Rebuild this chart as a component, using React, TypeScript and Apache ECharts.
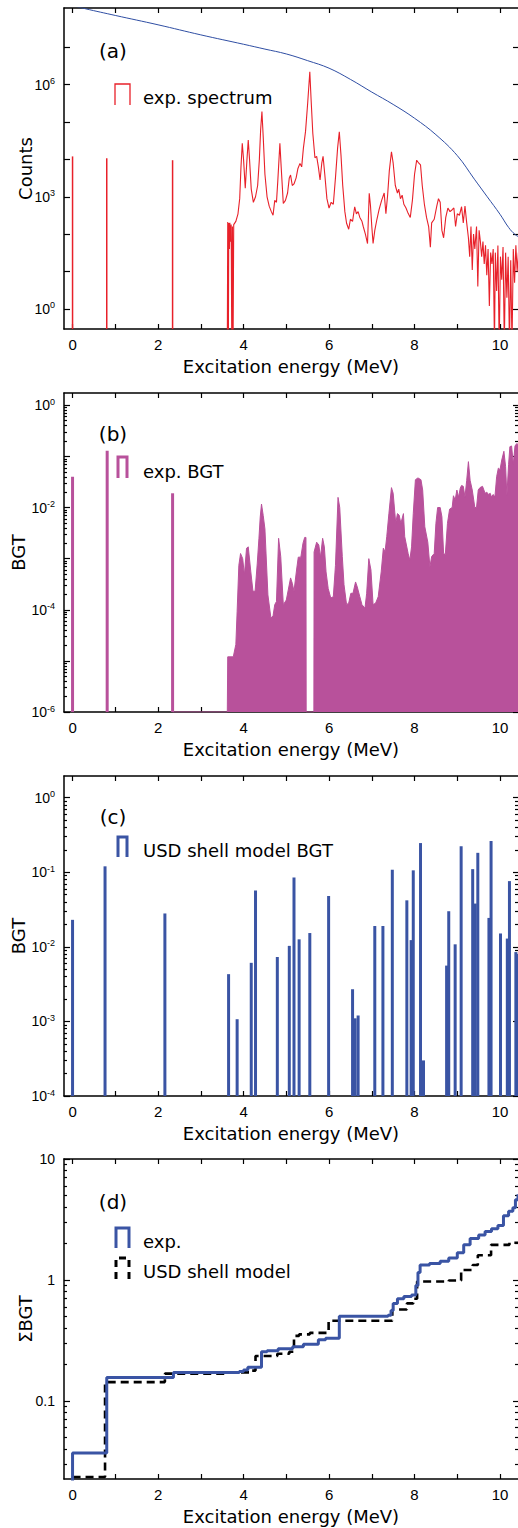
import React, { useEffect, useRef } from 'react';
import * as echarts from 'echarts';

const FONT = "'Liberation Sans', Arial, sans-serif";
const TITLE_FONT = "'DejaVu Sans', Verdana, sans-serif";
const BLACK = '#000000';
const RED = '#e8212a';
const CURVE_BLUE = '#2f4ea3';
const MAGENTA = '#b8519b';
const BLUE = '#3a54a4';

// ---- shared x axis ----
const X_MIN = -0.2;
const X_MAX = 10.42;
const X_TICKS = [0, 1, 2, 3, 4, 5, 6, 7, 8, 9, 10];
const X_LABELS = [0, 2, 4, 6, 8, 10];

// ---- panel (a) ----
const A_Y_RANGE = [0.29, 1.12e8];
const A_Y_TICKS = [1, 10, 100, 1e3, 1e4, 1e5, 1e6, 1e7];
const A_Y_LABELS = [1, 1e3, 1e6];
// isolated lines of the experimental spectrum: [MeV, counts]
const A_SPIKES: [number, number][] = [[0.0, 12000], [0.8, 10700], [2.34, 9500]];
// experimental spectrum: [MeV, counts]
const A_SPECTRUM: [number, number][] = [
  [3.62, 0.1], [3.63, 210], [3.645, 0.1], [3.655, 200], [3.67, 40], [3.68, 200], [3.695, 63], [3.71, 180],
  [3.725, 0.1], [3.74, 160], [3.755, 0.1], [3.77, 180], [3.82, 220], [3.87, 350], [3.91, 890], [3.94, 6300],
  [3.97, 27000], [4.0, 10000], [4.04, 1700], [4.08, 10000], [4.11, 33000], [4.14, 10000], [4.18, 1600],
  [4.23, 710], [4.28, 1000], [4.33, 2000], [4.37, 10000], [4.4, 63000], [4.43, 190000], [4.46, 40000],
  [4.5, 4000], [4.55, 1000], [4.6, 560], [4.65, 400], [4.69, 320], [4.73, 800], [4.77, 710], [4.8, 2500],
  [4.85, 27000], [4.88, 6300], [4.93, 660], [4.98, 800], [5.03, 1260], [5.07, 3200], [5.1, 3800], [5.14, 2000],
  [5.18, 2200], [5.23, 3200], [5.27, 5600], [5.32, 7800], [5.36, 6300], [5.4, 20000], [5.45, 56000],
  [5.5, 316000], [5.55, 2.2e6], [5.58, 400000], [5.62, 50000], [5.67, 11000], [5.71, 12000], [5.75, 6300],
  [5.79, 2800], [5.83, 7900], [5.86, 12000], [5.9, 4000], [5.95, 890], [6.0, 500], [6.05, 710], [6.1, 630],
  [6.15, 3200], [6.2, 20000], [6.24, 55000], [6.28, 12600], [6.32, 2000], [6.37, 400], [6.41, 195], [6.46, 135],
  [6.5, 250], [6.55, 220], [6.6, 540], [6.64, 350], [6.68, 400], [6.72, 280], [6.77, 220], [6.8, 160],
  [6.85, 100], [6.9, 56], [6.94, 1230], [6.97, 560], [7.0, 160], [7.03, 56], [7.07, 126], [7.12, 250],
  [7.17, 450], [7.23, 800], [7.29, 1260], [7.33, 350], [7.37, 1100], [7.41, 5000], [7.46, 16000], [7.5, 7900],
  [7.55, 2000], [7.6, 1260], [7.63, 1600], [7.67, 890], [7.71, 1100], [7.75, 630], [7.8, 500], [7.85, 360],
  [7.9, 280], [7.95, 800], [8.0, 4000], [8.05, 9500], [8.1, 7900], [8.14, 7100], [8.18, 2000], [8.23, 630],
  [8.28, 280], [8.33, 160], [8.37, 45], [8.4, 200], [8.46, 250], [8.52, 560], [8.56, 890], [8.6, 710],
  [8.64, 126], [8.68, 80], [8.73, 280], [8.78, 500], [8.83, 400], [8.88, 450], [8.92, 500], [8.96, 160],
  [9.0, 350], [9.05, 320], [9.1, 540], [9.14, 200], [9.18, 560], [9.22, 200], [9.26, 80], [9.29, 25],
  [9.32, 160], [9.35, 11], [9.38, 100], [9.41, 40], [9.45, 160], [9.48, 4], [9.51, 126], [9.54, 63],
  [9.57, 25], [9.6, 63], [9.63, 16], [9.66, 50], [9.69, 8], [9.72, 40], [9.75, 1.2], [9.78, 32], [9.81, 16],
  [9.84, 40], [9.87, 0.1], [9.89, 32], [9.92, 3], [9.95, 50], [9.98, 0.1], [10.01, 25], [10.04, 6],
  [10.07, 45], [10.1, 0.1], [10.13, 32], [10.16, 2], [10.19, 25], [10.22, 0.1], [10.25, 20], [10.28, 0.1],
  [10.31, 40], [10.34, 5], [10.37, 50], [10.4, 10], [10.43, 32],
];
// smooth blue curve: [MeV, counts]
const A_CURVE: [number, number][] = [
  [0.0, 1.3e8], [0.3, 1.07e8], [1.0, 7.08e7], [2.0, 3.98e7], [3.0, 2.14e7], [4.0, 1.2e7], [4.5, 8.91e6],
  [5.0, 6.61e6], [5.5, 4.37e6], [6.0, 2.75e6], [6.5, 1.38e6], [7.0, 6.31e5], [7.5, 2.95e5], [8.0, 1.26e5],
  [8.5, 4.57e4], [9.0, 1.26e4], [9.4, 2.95e3], [9.7, 1.0e3], [10.0, 339], [10.2, 151], [10.35, 98], [10.45, 83],
];

// ---- panel (b) ----
const B_Y_RANGE = [1e-6, 1.74];
const B_Y_TICKS = [1e-6, 1e-5, 1e-4, 1e-3, 1e-2, 1e-1, 1];
const B_Y_LABELS = [1e-6, 1e-4, 1e-2, 1];
const B_SPIKES: [number, number][] = [[0.0, 0.04], [0.81, 0.129], [2.34, 0.019]];
const B_BGT: [number, number][] = [
  [2.34, 1e-6], [3.62, 1e-6], [3.63, 1.2e-5], [3.76, 1.2e-5], [3.82, 2.1e-5], [3.85, 9.3e-5], [3.89, 7.4e-4],
  [3.93, 1.26e-3], [3.98, 1.0e-3], [4.02, 4.8e-4], [4.07, 1.6e-3], [4.11, 1.7e-3], [4.17, 5.5e-4],
  [4.22, 2.3e-4], [4.27, 2.3e-4], [4.32, 7.9e-4], [4.36, 2.5e-3], [4.39, 6.5e-3], [4.42, 1.17e-2],
  [4.46, 7e-3], [4.5, 3.8e-3], [4.57, 1.95e-4], [4.64, 6.9e-5], [4.69, 7.6e-5], [4.73, 1.26e-4],
  [4.77, 1.45e-4], [4.82, 2.5e-3], [4.87, 1.1e-3], [4.93, 1.26e-4], [5.0, 1.55e-4], [5.1, 4.2e-4],
  [5.14, 3.3e-4], [5.18, 2.3e-4], [5.24, 6e-4], [5.28, 1.07e-3], [5.34, 1.07e-3], [5.39, 2.0e-3],
  [5.43, 2.6e-3], [5.46, 2.6e-3], [5.465, 1e-6], [5.645, 1e-6], [5.65, 1.35e-3], [5.71, 2.1e-3],
  [5.76, 1.85e-3], [5.8, 1.07e-3], [5.85, 2.5e-3], [5.89, 1.7e-3], [5.93, 5.5e-4], [5.98, 2.6e-4],
  [6.04, 1.7e-4], [6.1, 1.8e-4], [6.15, 7.4e-4], [6.21, 1.58e-2], [6.25, 1.0e-2], [6.31, 1.1e-3],
  [6.35, 3.1e-4], [6.41, 1.26e-4], [6.46, 1.35e-4], [6.51, 2.1e-4], [6.56, 2.1e-4], [6.62, 3.5e-4],
  [6.66, 2.8e-4], [6.72, 1.8e-4], [6.77, 1.26e-4], [6.84, 1.07e-4], [6.88, 2.1e-4], [6.93, 1.0e-3],
  [6.98, 6.0e-4], [7.03, 1.26e-4], [7.09, 1.35e-4], [7.15, 1.8e-4], [7.22, 5.5e-4], [7.27, 1.6e-3],
  [7.31, 1.35e-3], [7.35, 2.7e-3], [7.4, 7.6e-3], [7.46, 2.45e-2], [7.5, 1.9e-2], [7.56, 4.9e-3],
  [7.6, 7.6e-3], [7.64, 7.1e-3], [7.68, 4.9e-3], [7.74, 7.6e-3], [7.77, 2.7e-3], [7.85, 1.26e-3],
  [7.89, 9.3e-4], [7.93, 1.7e-3], [7.97, 7.6e-3], [8.02, 3.5e-2], [8.08, 3.8e-2], [8.15, 3.5e-2],
  [8.19, 2.2e-2], [8.24, 4.2e-3], [8.31, 2.1e-3], [8.36, 6.9e-4], [8.4, 1.1e-3], [8.46, 1.26e-3],
  [8.5, 4.9e-3], [8.54, 1.0e-2], [8.6, 1.0e-2], [8.64, 6.6e-3], [8.68, 1.26e-3], [8.72, 1.2e-3],
  [8.77, 4.9e-3], [8.82, 9.3e-3], [8.88, 1.0e-2], [8.91, 1.7e-2], [8.95, 1.4e-2], [8.99, 2.2e-2],
  [9.03, 1.6e-2], [9.07, 2.4e-2], [9.1, 2.7e-2], [9.14, 2.6e-2], [9.18, 1.6e-2], [9.22, 3.4e-2],
  [9.26, 7.9e-2], [9.3, 3.4e-2], [9.35, 2.2e-2], [9.41, 1.0e-2], [9.45, 1.0e-2], [9.49, 2.2e-2],
  [9.53, 2.45e-2], [9.59, 2.6e-2], [9.65, 1.9e-2], [9.69, 2.0e-2], [9.73, 1.8e-2], [9.77, 1.9e-2],
  [9.8, 1.6e-2], [9.84, 1.8e-2], [9.88, 1.6e-2], [9.92, 4.0e-2], [9.96, 5.9e-2], [10.0, 5.5e-2],
  [10.04, 8.5e-2], [10.09, 0.126], [10.13, 6.3e-2], [10.16, 1.7e-2], [10.2, 7e-2], [10.23, 0.155],
  [10.27, 0.16], [10.31, 7e-2], [10.35, 0.16], [10.39, 0.178], [10.43, 0.17],
];

// ---- panel (c) ----
const C_Y_RANGE = [1e-4, 1.95];
const C_Y_TICKS = [1e-4, 1e-3, 1e-2, 1e-1, 1];
const C_Y_LABELS = [1e-4, 1e-3, 1e-2, 1e-1, 1];
const C_USD_BGT: [number, number][] = [
  [0.0, 0.023], [0.76, 0.12], [2.16, 0.028], [3.65, 0.0043], [3.85, 0.00107], [4.18, 0.0061], [4.28, 0.057],
  [4.79, 0.0073], [5.07, 0.0103], [5.18, 0.085], [5.3, 0.0126], [5.55, 0.0153], [5.99, 0.048], [6.55, 0.0027],
  [6.61, 0.0011], [6.68, 0.0012], [7.07, 0.019], [7.26, 0.019], [7.48, 0.108], [7.82, 0.042], [7.92, 0.0123],
  [7.97, 0.106], [8.14, 0.246], [8.21, 0.0003], [8.75, 0.0056], [8.8, 0.03], [8.95, 0.0108], [9.09, 0.223],
  [9.36, 0.11], [9.42, 0.038], [9.48, 0.182], [9.74, 0.0244], [9.79, 0.262], [10.01, 0.0151], [10.17, 0.0129],
  [10.22, 0.076], [10.37, 0.0085], [10.41, 0.008],
];

// ---- panel (d) ----
const D_Y_RANGE = [0.0226, 10];
const D_Y_TICKS = [0.1, 1, 10];
const D_Y_LABELS = [0.1, 1, 10];
const D_EXP_SUM: [number, number][] = [
  [0.0, 0.02], [0.0, 0.037], [0.8, 0.156], [2.36, 0.172], [3.9, 0.175], [4.0, 0.18], [4.1, 0.19],
  [4.42, 0.255], [4.55, 0.26], [4.81, 0.27], [5.15, 0.28], [5.4, 0.294], [5.75, 0.32], [5.92, 0.33],
  [6.24, 0.5], [7.38, 0.51], [7.45, 0.56], [7.5, 0.64], [7.6, 0.7], [7.75, 0.73], [7.93, 0.75],
  [8.03, 0.9], [8.08, 1.15], [8.13, 1.33], [8.35, 1.37], [8.6, 1.43], [8.8, 1.52], [9.0, 1.68],
  [9.15, 1.95], [9.3, 2.2], [9.5, 2.35], [9.65, 2.52], [9.8, 2.65], [9.95, 2.82], [10.08, 3.4],
  [10.2, 3.7], [10.3, 3.95], [10.36, 4.6], [10.42, 5.1],
];
const D_USD_SUM: [number, number][] = [
  [0.0, 0.0235], [0.76, 0.143], [2.16, 0.168], [3.65, 0.172], [4.18, 0.178], [4.28, 0.235], [4.79, 0.245],
  [5.07, 0.255], [5.18, 0.345], [5.3, 0.355], [5.55, 0.365], [5.99, 0.46], [7.48, 0.57], [7.82, 0.64],
  [7.97, 0.7], [8.06, 0.97], [8.8, 0.99], [9.09, 1.21], [9.36, 1.33], [9.48, 1.6], [9.79, 1.95],
  [10.22, 2.03], [10.42, 2.03],
];

function minorTicks(fromExp: number, toExp: number): number[] {
  const out: number[] = [];
  for (let e = fromExp; e <= toExp; e++) {
    for (let m = 2; m <= 9; m++) out.push(m * Math.pow(10, e));
  }
  return out;
}

const AXIS_LINE = { color: BLACK, width: 1.5 };
const TICK_LINE = { color: BLACK, width: 1.2 };
const NAME_STYLE = { fontSize: 18, color: BLACK, fontFamily: TITLE_FONT };

const powFmt = (v: number) => {
  const e = Math.round(Math.log10(v));
  return `{b|10}{s|${e}}`;
};
const plainFmt = (v: number) => String(v);
const RICH = {
  b: { fontSize: 14, fontFamily: FONT, color: BLACK, lineHeight: 16 },
  s: { fontSize: 9, fontFamily: FONT, color: BLACK, lineHeight: 9, verticalAlign: 'top' },
};

function xAxesFor(gi: number) {
  const common = {
    type: 'value', gridIndex: gi, min: X_MIN, max: X_MAX,
    splitLine: { show: false },
  };
  return [
    {
      ...common,
      position: 'bottom',
      name: 'Excitation energy (MeV)',
      nameLocation: 'middle',
      nameGap: 28,
      nameMoveOverlap: false,
      nameTextStyle: NAME_STYLE,
      axisLine: { show: true, onZero: false, lineStyle: AXIS_LINE },
      axisTick: { show: true, inside: true, length: 5, customValues: X_TICKS, lineStyle: TICK_LINE },
      axisLabel: { show: true, customValues: X_LABELS, margin: 8, fontSize: 15, color: BLACK, fontFamily: FONT },
    },
    {
      ...common,
      position: 'top',
      axisLine: { show: true, onZero: false, lineStyle: AXIS_LINE },
      axisTick: { show: true, inside: true, length: 5, customValues: X_TICKS, lineStyle: TICK_LINE },
      axisLabel: { show: false },
    },
  ];
}

function yAxesFor(
  gi: number, range: number[], majors: number[], labels: number[], minors: number[],
  name: string, nameGap: number, fmt: (v: number) => string,
) {
  const common = {
    type: 'log', logBase: 10, gridIndex: gi, min: range[0], max: range[1],
    splitLine: { show: false },
  };
  const hasMinor = minors.length > 0;
  return [
    {
      ...common,
      position: 'left',
      name, nameLocation: 'middle', nameGap, nameMoveOverlap: false,
      nameTextStyle: NAME_STYLE,
      axisLine: { show: true, onZero: false, lineStyle: AXIS_LINE },
      axisTick: { show: true, inside: true, length: 6, customValues: majors, lineStyle: TICK_LINE },
      axisLabel: { show: true, customValues: labels, formatter: fmt, margin: 9, rich: RICH, fontSize: 14, color: BLACK, fontFamily: FONT },
    },
    {
      ...common,
      position: 'left',
      axisLine: { show: false, onZero: false },
      axisTick: { show: hasMinor, inside: true, length: 3, customValues: hasMinor ? minors : majors, lineStyle: TICK_LINE },
      axisLabel: { show: false },
    },
    {
      ...common,
      position: 'right',
      axisLine: { show: false, onZero: false },
      axisTick: { show: true, inside: true, length: 5, customValues: majors, lineStyle: TICK_LINE },
      axisLabel: { show: false },
    },
    {
      ...common,
      position: 'right',
      axisLine: { show: false, onZero: false },
      axisTick: { show: hasMinor, inside: true, length: 3, customValues: hasMinor ? minors : majors, lineStyle: TICK_LINE },
      axisLabel: { show: false },
    },
  ];
}

function stickSeries(gi: number, data: [number, number][], color: string, width: number) {
  return {
    type: 'custom',
    xAxisIndex: gi * 2,
    yAxisIndex: gi * 4,
    clip: true,
    data,
    renderItem: (params: any, api: any) => {
      const top = api.coord([api.value(0), api.value(1)]);
      const cs = params.coordSys;
      const bottom = cs.y + cs.height;
      return {
        type: 'rect',
        shape: { x: top[0] - width / 2, y: top[1], width, height: bottom - top[1] },
        style: { fill: color },
      };
    },
  };
}

function text(t: string, x: number, y: number, size: number, align = 'left') {
  return {
    type: 'text',
    z: 100,
    style: {
      text: t, x, y, fill: BLACK, fontSize: size, fontFamily: TITLE_FONT,
      textAlign: align, align, textVerticalAlign: 'middle', verticalAlign: 'middle',
    },
  };
}

function legendMark(x0: number, x1: number, yTop: number, yBot: number, color: string, lw: number, dash?: number[]) {
  return {
    type: 'polyline',
    z: 100,
    shape: { points: [[x0, yBot], [x0, yTop], [x1, yTop], [x1, yBot]] },
    style: { stroke: color, lineWidth: lw, fill: null, lineDash: dash || null },
  };
}

function buildOption() {
  const grids = [
    { left: 64, right: 0, top: 8, height: 321 },
    { left: 64, right: 0, top: 393, height: 319 },
    { left: 64, right: 0, top: 776, height: 320 },
    { left: 64, right: 0, top: 1159, height: 320 },
  ].map((g) => ({ ...g, outerBoundsMode: 'none', containLabel: false }));

  const xAxis = [...xAxesFor(0), ...xAxesFor(1), ...xAxesFor(2), ...xAxesFor(3)];
  const yAxis = [
    ...yAxesFor(0, A_Y_RANGE, A_Y_TICKS, A_Y_LABELS, [], 'Counts', 30, powFmt),
    ...yAxesFor(1, B_Y_RANGE, B_Y_TICKS, B_Y_LABELS, minorTicks(-6, -1), 'BGT', 37, powFmt),
    ...yAxesFor(2, C_Y_RANGE, C_Y_TICKS, C_Y_LABELS, minorTicks(-4, -1), 'BGT', 37, powFmt),
    ...yAxesFor(3, D_Y_RANGE, D_Y_TICKS, D_Y_LABELS, minorTicks(-2, 0).filter((v) => v > 0.0226), 'ΣBGT', 30, plainFmt),
  ];

  const series: any[] = [
    stickSeries(0, A_SPIKES, RED, 1.5),
    {
      type: 'line', xAxisIndex: 0, yAxisIndex: 0, data: A_SPECTRUM, showSymbol: false,
      lineStyle: { color: RED, width: 1.1 }, itemStyle: { color: RED }, clip: true,
    },
    {
      type: 'line', xAxisIndex: 0, yAxisIndex: 0, data: A_CURVE, showSymbol: false, smooth: 0.4,
      lineStyle: { color: CURVE_BLUE, width: 1 }, itemStyle: { color: CURVE_BLUE }, clip: true,
    },
    stickSeries(1, B_SPIKES, MAGENTA, 3),
    {
      type: 'line', xAxisIndex: 2, yAxisIndex: 4, data: B_BGT, showSymbol: false,
      lineStyle: { color: MAGENTA, width: 1 }, itemStyle: { color: MAGENTA },
      areaStyle: { color: MAGENTA, opacity: 1, origin: 'start' }, clip: true,
    },
    stickSeries(2, C_USD_BGT, BLUE, 3),
    {
      type: 'line', xAxisIndex: 6, yAxisIndex: 12, data: D_USD_SUM, showSymbol: false, step: 'end',
      lineStyle: { color: BLACK, width: 2.6, type: [8, 5] }, itemStyle: { color: BLACK }, clip: true,
    },
    {
      type: 'line', xAxisIndex: 6, yAxisIndex: 12, data: D_EXP_SUM, showSymbol: false, step: 'end',
      lineStyle: { color: BLUE, width: 3 }, itemStyle: { color: BLUE }, clip: true,
    },
  ];

  const graphic = [
    text('(a)', 113, 51, 20, 'center'),
    legendMark(115, 130, 84, 105, RED, 1.3),
    text('exp. spectrum', 143, 97, 18),
    text('(b)', 113, 434, 20, 'center'),
    legendMark(118, 127, 457, 478, MAGENTA, 3),
    text('exp. BGT', 143, 471, 18),
    text('(c)', 113, 817, 20, 'center'),
    legendMark(118, 127, 837, 857, BLUE, 3),
    text('USD shell model BGT', 143, 850, 18),
    text('(d)', 113, 1202, 20, 'center'),
    legendMark(116, 129, 1228, 1248, BLUE, 3),
    text('exp.', 143, 1241, 18),
    legendMark(116, 129, 1258, 1279, BLACK, 3, [7, 5]),
    text('USD shell model', 143, 1271, 18),
  ];

  return {
    animation: false,
    backgroundColor: '#ffffff',
    textStyle: { fontFamily: FONT },
    grid: grids,
    xAxis,
    yAxis,
    series,
    graphic,
  };
}

export default function App() {
  const ref = useRef<HTMLDivElement>(null);
  useEffect(() => {
    document.body.style.margin = '0';
    const chart = echarts.init(ref.current as HTMLDivElement, null, { renderer: 'svg' });
    chart.setOption(buildOption() as any);
    return () => chart.dispose();
  }, []);
  return <div ref={ref} style={{ width: 518, height: 1528 }} />;
}
